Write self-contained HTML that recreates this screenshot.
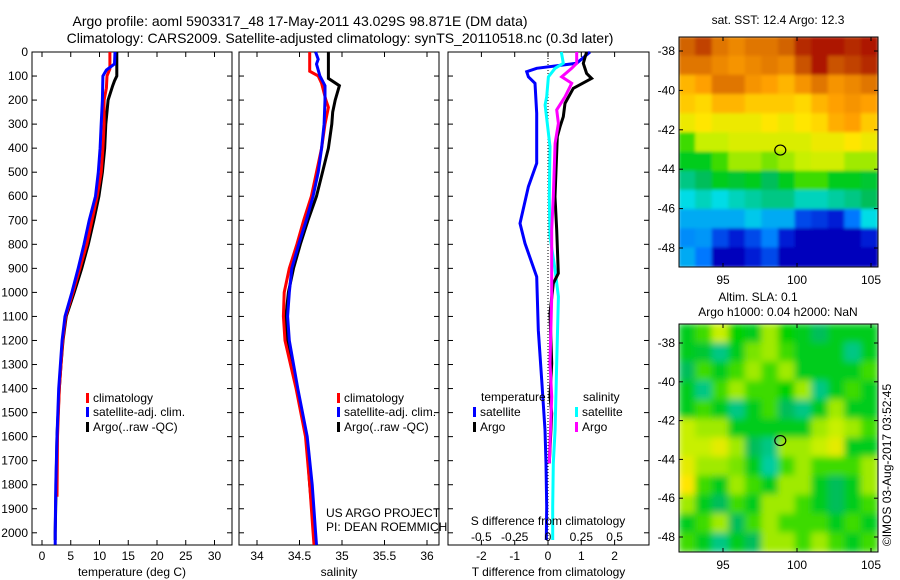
<!DOCTYPE html>
<html><head><meta charset="utf-8">
<style>
html,body{margin:0;padding:0;background:#fff;}
svg{display:block;font-family:"Liberation Sans",sans-serif;}
text{font-size:12px;fill:#000;}
</style></head>
<body>
<svg id="c" width="900" height="580" viewBox="0 0 900 580">
<defs>
<filter id="blur" x="0" y="0" width="1" height="1"><feGaussianBlur stdDeviation="3.5"/></filter>
<filter id="blur2" x="0" y="0" width="1" height="1"><feGaussianBlur stdDeviation="1.5"/></filter>
<clipPath id="m1clip"><rect x="679" y="37" width="199" height="230"/></clipPath>
<clipPath id="m2clip"><rect x="679" y="324" width="199" height="228"/></clipPath>
</defs>
<text x="300" y="26" text-anchor="middle" style="font-size:14px">Argo profile: aoml 5903317_48 17-May-2011 43.029S 98.871E (DM data)</text>
<text x="340" y="43" text-anchor="middle" style="font-size:14px">Climatology: CARS2009. Satellite-adjusted climatology: synTS_20110518.nc (0.3d later)</text>
<g id="g"></g>
</svg>
<script>
// ---------- data ----------
const depthTicks=[0,100,200,300,400,500,600,700,800,900,1000,1100,1200,1300,1400,1500,1600,1700,1800,1900,2000];
const tempTicks=[0,5,10,15,20,25,30];
const salTicks=[34,34.5,35,35.5,36];
const tdTicks=[-2,-1,0,1,2];
const sdTicks=[-0.5,-0.25,0,0.25,0.5];
const sdTickLabels=["-0.5","-0.25","0","0.25","0.5"];
// temperature profiles
const tDepthArgo=[0,100,120,140,200,300,400,500,600,700,800,900,1000,1100,1200,1300,1400,1600,1800,2000,2030];
const tempArgo=[13.0,13.0,12.6,12.3,11.5,11.1,10.9,10.5,9.9,9.0,8.05,6.9,5.6,4.2,3.65,3.3,3.0,2.6,2.45,2.3,2.3];
const tDepthClim=[0,70,100,150,200,300,400,500,600,700,800,900,1000,1100,1200,1400,1600,1850];
const tempClim=[11.8,11.8,11.3,11.2,10.8,10.8,10.6,10.3,9.6,8.7,7.8,6.6,5.4,4.1,3.6,3.0,2.7,2.6];
const tDepthSat=[0,50,75,100,200,300,400,500,600,700,800,900,1000,1100,1200,1400,1600,1800,2000,2050];
const tempSat=[12.7,12.6,11.2,10.6,10.5,10.3,10.1,9.8,9.3,8.2,7.3,6.3,5.2,4.0,3.5,2.9,2.6,2.4,2.3,2.3];
// salinity profiles
const sDepthArgo=[0,110,140,200,250,300,400,500,600,700,800,900,1000,1100,1200,1300,1400,1500,1600,1800,2000,2030];
const salArgo=[34.84,34.84,34.97,34.92,34.89,34.88,34.84,34.77,34.70,34.60,34.51,34.43,34.37,34.34,34.36,34.41,34.47,34.53,34.58,34.62,34.67,34.68];
const sDepthClim=[0,80,100,130,200,230,300,400,500,600,700,800,900,1000,1100,1200,1400,1600,1800,2000,2050];
const salClim=[34.62,34.62,34.72,34.76,34.81,34.84,34.80,34.76,34.70,34.64,34.55,34.47,34.38,34.32,34.31,34.33,34.46,34.57,34.62,34.66,34.67];
const sDepthSat=[0,30,50,100,140,200,300,400,500,600,700,800,900,1000,1100,1200,1400,1600,1800,2000,2050];
const salSat=[34.69,34.72,34.70,34.74,34.80,34.80,34.79,34.76,34.72,34.66,34.58,34.49,34.41,34.38,34.36,34.38,34.48,34.59,34.65,34.69,34.70];
// difference profiles
const dDepthTSat=[0,47,68,82,103,130,255,463,560,713,796,935,1157,1364,1572,1711,1891,2030];
const dTempSat=[1.26,0.86,-0.34,-0.64,-0.59,-0.39,-0.34,-0.34,-0.59,-0.84,-0.69,-0.34,-0.29,-0.19,-0.09,-0.06,-0.04,-0.05];
const dDepthTArgo=[0,47,89,110,151,214,269,311,352,602,740,921,962,1087,1295,1434,1503,1711];
const dTempArgo=[1.16,1.06,1.16,1.31,0.76,0.51,0.46,0.36,0.28,0.21,0.26,0.31,0.16,0.06,0.11,0.06,0.11,0.04];
const dDepthSSat=[0,47,68,103,186,220,297,394,602,768,907,1018,1295,1572,1711,1891,2030];
const dSalSat=[0.10,0.115,0.053,0.003,-0.01,-0.022,-0.005,0.015,0.01,0.015,0.053,0.078,0.065,0.053,0.04,0.035,0.035];
const dDepthSArgo=[0,47,68,103,130,186,241,297,380,602,740,1018,1295,1434,1711];
const dSalArgo=[0.215,0.215,0.178,0.103,0.178,0.128,0.065,0.078,0.053,0.04,0.028,0.028,0.015,0.028,0.01];
// maps
const lonTicks=[95,100,105];
const latTicks=[-38,-40,-42,-44,-46,-48];
const floatLon=98.871, floatLat=-43.029;
const sstGrid=[
[.88,.92,.85,.82,.85,.85,.88,.95,.97,.97,.95,.97],
[.85,.85,.82,.80,.82,.84,.82,.90,.97,.90,.92,.95],
[.75,.78,.85,.85,.80,.78,.75,.80,.85,.80,.82,.85],
[.72,.70,.75,.75,.72,.72,.72,.70,.75,.78,.80,.78],
[.66,.68,.66,.66,.66,.68,.66,.68,.70,.76,.78,.72],
[.55,.62,.62,.64,.64,.64,.64,.64,.66,.66,.68,.66],
[.50,.50,.55,.60,.60,.58,.60,.62,.63,.63,.60,.60],
[.42,.45,.50,.48,.50,.45,.50,.55,.55,.50,.50,.48],
[.35,.38,.35,.38,.40,.42,.42,.38,.38,.40,.42,.45],
[.30,.30,.30,.30,.33,.30,.30,.20,.18,.15,.25,.35],
[.27,.28,.20,.15,.20,.26,.15,.10,.10,.10,.10,.15],
[.30,.25,.10,.10,.15,.20,.10,.10,.10,.10,.10,.10]];
const slaGrid=[
[.50,.55,.62,.52,.50,.60,.52,.50,.45,.50,.50,.50],
[.50,.48,.42,.50,.58,.60,.55,.50,.50,.50,.42,.50],
[.45,.55,.50,.55,.60,.55,.60,.50,.50,.50,.50,.55],
[.50,.42,.55,.60,.55,.55,.52,.60,.42,.50,.55,.50],
[.50,.55,.50,.42,.50,.55,.45,.42,.50,.60,.50,.50],
[.62,.60,.60,.50,.50,.50,.50,.50,.60,.62,.60,.55],
[.62,.62,.65,.60,.45,.42,.60,.60,.62,.65,.50,.50],
[.65,.60,.60,.58,.50,.40,.55,.60,.55,.55,.55,.60],
[.68,.55,.50,.60,.55,.50,.60,.60,.50,.45,.50,.60],
[.60,.50,.45,.55,.50,.60,.60,.55,.50,.45,.50,.55],
[.50,.55,.60,.45,.55,.60,.55,.55,.55,.50,.55,.50],
[.55,.50,.42,.50,.45,.60,.60,.55,.60,.55,.50,.55]];

// ---------- helpers ----------
const NS="http://www.w3.org/2000/svg";
const G=document.getElementById('g');
function mk(tag,attrs,parent){const e=document.createElementNS(NS,tag);for(const k in attrs)e.setAttribute(k,attrs[k]);(parent||G).appendChild(e);return e;}
const TOP=52, BOT=545;
function yD(d){return TOP+d*0.2404;}
function xT(t){return 42+5.75*t;}
function xS(s){return 257+85*(s-34);}
function xDT(v){return 548+33.3*v;}
function xDS(v){return 548+133.3*v;}
function lonX(l){return 723+(l-95)*14.8;}
function latY1(l){return 51+(-38-l)*19.7;}
function latY2(l){return 343+(-38-l)*19.4;}
function jet(v){
  const stops=[[0,[0,0,128]],[0.12,[0,0,200]],[0.25,[0,120,255]],[0.35,[0,220,230]],[0.45,[0,190,90]],[0.52,[0,210,0]],[0.62,[200,240,0]],[0.68,[255,230,0]],[0.78,[255,160,0]],[0.88,[210,100,0]],[1,[160,0,0]]];
  for(let i=1;i<stops.length;i++){if(v<=stops[i][0]){const a=stops[i-1],b=stops[i];const t=(v-a[0])/(b[0]-a[0]);const c=a[1].map((x,j)=>Math.round(x+(b[1][j]-x)*t));return `rgb(${c[0]},${c[1]},${c[2]})`;}}
  return 'rgb(160,0,0)';
}
function line(depths,vals,xf,color,name,w){
  const pts=depths.map((d,i)=>xf(vals[i]).toFixed(1)+','+yD(d).toFixed(1)).join(' ');
  const p=mk('polyline',{points:pts,fill:'none',stroke:color,'stroke-width':w||3,'stroke-linejoin':'miter'});
  
  
}
function txt(x,y,s,anchor,name,extra){
  const t=mk('text',Object.assign({x:x,y:y,'text-anchor':anchor||'start'},extra||{}));
  t.textContent=s;
  
  
  return t;
}
function panel(x0,x1,name,xTicksPx,xLabels,xTitle){
  const r=mk('rect',{x:x0,y:TOP,width:x1-x0,height:BOT-TOP,fill:'none',stroke:'#000','stroke-width':1});
  
  
  depthTicks.forEach(d=>{
    mk('line',{x1:x0,x2:x0+5,y1:yD(d),y2:yD(d),stroke:'#000'});
    mk('line',{x1:x1-5,x2:x1,y1:yD(d),y2:yD(d),stroke:'#000'});
  });
  xTicksPx.forEach((px,i)=>{
    mk('line',{x1:px,x2:px,y1:TOP,y2:TOP+5,stroke:'#000'});
    mk('line',{x1:px,x2:px,y1:BOT-5,y2:BOT,stroke:'#000'});
    txt(px,560,xLabels[i],'middle',name+'-x-tick-label');
  });
  txt((x0+x1)/2,576,xTitle,'middle',name+'-x-axis-title');
}

// ---------- panels ----------
panel(32,232,'temperature-panel',tempTicks.map(xT),tempTicks.map(String),'temperature (deg C)');
panel(239,439,'salinity-panel',salTicks.map(xS),salTicks.map(String),'salinity');
panel(448,649,'difference-panel',tdTicks.map(xDT),tdTicks.map(String),'T difference from climatology');
depthTicks.forEach(d=>txt(28,yD(d)+4,String(d),'end','depth-tick-label'));

// temperature
line(tDepthArgo,tempArgo,xT,'#000','temp-argo-line');
line(tDepthClim,tempClim,xT,'#f00','temp-climatology-line');
line(tDepthSat,tempSat,xT,'#00f','temp-satellite-line');
// salinity
line(sDepthArgo,salArgo,xS,'#000','sal-argo-line');
line(sDepthClim,salClim,xS,'#f00','sal-climatology-line');
line(sDepthSat,salSat,xS,'#00f','sal-satellite-line');
// differences
const zl=mk('line',{x1:548,x2:548,y1:TOP,y2:BOT,stroke:'#000','stroke-dasharray':'1,2'});


line(dDepthTSat,dTempSat,xDT,'#00f','tdiff-satellite-line');
line(dDepthSSat,dSalSat,xDS,'#0ff','sdiff-satellite-line');
line(dDepthTArgo,dTempArgo,xDT,'#000','tdiff-argo-line');
line(dDepthSArgo,dSalArgo,xDS,'#f0f','sdiff-argo-line');
sdTicks.forEach((v,i)=>txt(xDS(v),541,sdTickLabels[i],'middle','s-diff-tick-label'));
txt(548,525,'S difference from climatology','middle','s-diff-axis-title');

// legends
function legItem(x,y,color,label,name){
  const m=mk('rect',{x:x,y:y-9,width:3,height:10,fill:color});
  
  
  txt(x+7,y,label,'start',name);
}
[[86,'temperature-legend'],[337,'salinity-legend']].forEach(([lx,nm])=>{
  legItem(lx,402,'#f00','climatology',nm+'-climatology');
  legItem(lx,416,'#00f','satellite-adj. clim.',nm+'-satellite');
  legItem(lx,431,'#000','Argo(..raw -QC)',nm+'-argo');
});
txt(481,401,'temperature','start','diff-legend-temperature-heading');
legItem(473,416,'#00f','satellite','diff-legend-t-satellite');
legItem(473,431,'#000','Argo','diff-legend-t-argo');
txt(583,401,'salinity','start','diff-legend-salinity-heading');
legItem(575,416,'#0ff','satellite','diff-legend-s-satellite');
legItem(575,431,'#f0f','Argo','diff-legend-s-argo');
txt(326,517,'US ARGO PROJECT','start','project-label');
txt(326,531,'PI: DEAN ROEMMICH','start','pi-label');

// ---------- maps ----------
function map(grid,top,h,clip,latY,name,blur){
  const g=mk('g',{'clip-path':'url(#'+clip+')'});
  const inner=mk('g',{filter:'url(#'+blur+')'},g);
  const rows=grid.length, cols=grid[0].length;
  const cw=199/cols, ch=h/rows;
  grid.forEach((row,i)=>row.forEach((v,j)=>{
    const c=mk('rect',{x:(679+j*cw-0.5).toFixed(1),y:(top+i*ch-0.5).toFixed(1),width:(cw+1).toFixed(1),height:(ch+1).toFixed(1),fill:jet(v)},inner);
    
    
  }));
  const fr=mk('rect',{x:679,y:top,width:199,height:h,fill:'none',stroke:'#000'});
  
  
  latTicks.forEach(l=>{
    const y=latY(l);
    mk('line',{x1:679,x2:683,y1:y,y2:y,stroke:'#000'});
    mk('line',{x1:874,x2:878,y1:y,y2:y,stroke:'#000'});
    txt(675,y+4,String(l),'end',name+'-lat-label');
  });
  lonTicks.forEach(l=>{
    const x=lonX(l);
    mk('line',{x1:x,x2:x,y1:top,y2:top+4,stroke:'#000'});
    mk('line',{x1:x,x2:x,y1:top+h-4,y2:top+h,stroke:'#000'});
    txt(x,top+h+17,String(l),'middle',name+'-lon-label');
  });
  const c=mk('ellipse',{cx:lonX(floatLon),cy:latY(floatLat),rx:5.5,ry:5,fill:'none',stroke:'#000','stroke-width':1.2});
  
  
}
map(sstGrid,37,230,'m1clip',latY1,'sst-map','blur2');
map(slaGrid,324,228,'m2clip',latY2,'sla-map','blur');
txt(778,24,'sat. SST: 12.4 Argo: 12.3','middle','sst-map-title');
txt(758,301,'Altim. SLA: 0.1','middle','sla-map-title-1');
txt(778,316,'Argo h1000: 0.04 h2000: NaN','middle','sla-map-title-2');
txt(0,0,'©IMOS 03-Aug-2017 03:52:45','middle','imos-timestamp',{transform:'translate(891,465) rotate(-90)'});
</script>
</body></html>
